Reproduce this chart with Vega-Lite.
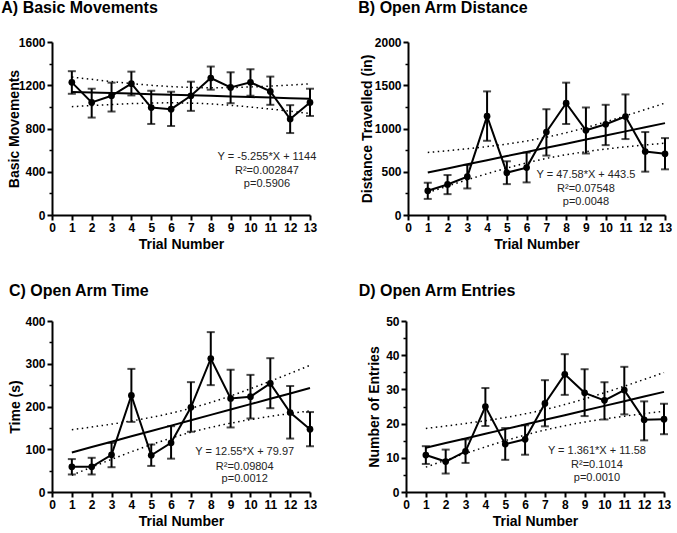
{
"$schema":"https://vega.github.io/schema/vega-lite/v6.json",
"background":"white",
"padding":{"left":1,"top":0,"right":0,"bottom":0},
"config":{
 "font":"Liberation Sans",
 "view":{"stroke":null},
 "axis":{"domainColor":"black","domainWidth":2,"tickColor":"black","tickWidth":2,"tickSize":5,"labelColor":"black","labelFont":"Liberation Sans","labelFontSize":12,"labelFontWeight":"bold","labelPadding":2,"titleFont":"Liberation Sans","titleFontSize":14,"titleFontWeight":"bold","titleColor":"black","grid":false,"labelOverlap":false},
 "axisX":{"titlePadding":4,"labelFlush":false},
 "title":{"anchor":"start","frame":"bounds","fontSize":16,"fontWeight":"bold","color":"black","font":"Liberation Sans"}
},
"datasets":{
 "A":[{"trial":1,"mean":1227,"lo":1121,"hi":1330},{"trial":2,"mean":1041,"lo":901,"hi":1168},{"trial":3,"mean":1103,"lo":957,"hi":1224},{"trial":4,"mean":1215,"lo":1106,"hi":1326},{"trial":5,"mean":994,"lo":842,"hi":1149},{"trial":6,"mean":979,"lo":823,"hi":1140},{"trial":7,"mean":1103,"lo":963,"hi":1233},{"trial":8,"mean":1267,"lo":1159,"hi":1373},{"trial":9,"mean":1180,"lo":1034,"hi":1320},{"trial":10,"mean":1227,"lo":1103,"hi":1348},{"trial":11,"mean":1143,"lo":1019,"hi":1280},{"trial":12,"mean":888,"lo":758,"hi":1016},{"trial":13,"mean":1041,"lo":916,"hi":1168}],
 "Afit":[{"trial":1,"fit":1138.7,"upper":1275.8,"lower":1001.6},{"trial":2,"fit":1133.5,"upper":1254.5,"lower":1012.5},{"trial":3,"fit":1128.2,"upper":1234.4,"lower":1022.0},{"trial":4,"fit":1123.0,"upper":1216.0,"lower":1030.0},{"trial":5,"fit":1117.7,"upper":1199.9,"lower":1035.5},{"trial":6,"fit":1112.5,"upper":1187.6,"lower":1037.4},{"trial":7,"fit":1107.2,"upper":1179.7,"lower":1034.7},{"trial":8,"fit":1102.0,"upper":1177.1,"lower":1026.9},{"trial":9,"fit":1096.7,"upper":1178.9,"lower":1014.5},{"trial":10,"fit":1091.5,"upper":1184.5,"lower":998.5},{"trial":11,"fit":1086.2,"upper":1192.4,"lower":980.0},{"trial":12,"fit":1080.9,"upper":1201.9,"lower":959.9},{"trial":13,"fit":1075.7,"upper":1212.8,"lower":938.6}],
 "Atxt":[{"trial":10.83,"y":538,"label":"Y = -5.255*X + 1144"},{"trial":10.83,"y":406,"label":"R²=0.002847"},{"trial":10.83,"y":288,"label":"p=0.5906"}],
 "B":[{"trial":1,"mean":280,"lo":186,"hi":373},{"trial":2,"mean":353,"lo":241,"hi":462},{"trial":3,"mean":443,"lo":307,"hi":579},{"trial":4,"mean":1142,"lo":858,"hi":1429},{"trial":5,"mean":489,"lo":357,"hi":621},{"trial":6,"mean":548,"lo":377,"hi":722},{"trial":7,"mean":959,"lo":687,"hi":1223},{"trial":8,"mean":1293,"lo":1052,"hi":1530},{"trial":9,"mean":979,"lo":711,"hi":1243},{"trial":10,"mean":1049,"lo":808,"hi":1274},{"trial":11,"mean":1138,"lo":878,"hi":1394},{"trial":12,"mean":734,"lo":501,"hi":959},{"trial":13,"mean":707,"lo":528,"hi":889}],
 "Bfit":[{"trial":1,"fit":491.1,"upper":722.7,"lower":259.5},{"trial":2,"fit":538.7,"upper":743.3,"lower":334.1},{"trial":3,"fit":586.2,"upper":765.6,"lower":406.8},{"trial":4,"fit":633.8,"upper":790.9,"lower":476.7},{"trial":5,"fit":681.4,"upper":820.4,"lower":542.4},{"trial":6,"fit":729.0,"upper":855.9,"lower":602.1},{"trial":7,"fit":776.6,"upper":899.2,"lower":654.0},{"trial":8,"fit":824.1,"upper":951.0,"lower":697.2},{"trial":9,"fit":871.7,"upper":1010.7,"lower":732.7},{"trial":10,"fit":919.3,"upper":1076.4,"lower":762.2},{"trial":11,"fit":966.9,"upper":1146.3,"lower":787.5},{"trial":12,"fit":1014.5,"upper":1219.1,"lower":809.9},{"trial":13,"fit":1062.0,"upper":1293.6,"lower":830.4}],
 "Btxt":[{"trial":9.0,"y":460,"label":"Y = 47.58*X + 443.5"},{"trial":9.0,"y":302,"label":"R²=0.07548"},{"trial":9.0,"y":155,"label":"p=0.0048"}],
 "C":[{"trial":1,"mean":59,"lo":41,"hi":77},{"trial":2,"mean":59,"lo":41,"hi":80},{"trial":3,"mean":87,"lo":58,"hi":115},{"trial":4,"mean":226,"lo":164,"hi":288},{"trial":5,"mean":86,"lo":61,"hi":111},{"trial":6,"mean":115,"lo":78,"hi":154},{"trial":7,"mean":198,"lo":141,"hi":257},{"trial":8,"mean":312,"lo":250,"hi":374},{"trial":9,"mean":219,"lo":151,"hi":286},{"trial":10,"mean":223,"lo":172,"hi":274},{"trial":11,"mean":254,"lo":196,"hi":313},{"trial":12,"mean":186,"lo":125,"hi":248},{"trial":13,"mean":147,"lo":107,"hi":187}],
 "Cfit":[{"trial":1,"fit":92.5,"upper":145.7,"lower":39.3},{"trial":2,"fit":105.1,"upper":152.0,"lower":58.1},{"trial":3,"fit":117.6,"upper":158.8,"lower":76.4},{"trial":4,"fit":130.2,"upper":166.2,"lower":94.1},{"trial":5,"fit":142.7,"upper":174.6,"lower":110.8},{"trial":6,"fit":155.3,"upper":184.4,"lower":126.1},{"trial":7,"fit":167.8,"upper":196.0,"lower":139.7},{"trial":8,"fit":180.4,"upper":209.5,"lower":151.2},{"trial":9,"fit":192.9,"upper":224.8,"lower":161.0},{"trial":10,"fit":205.5,"upper":241.5,"lower":169.4},{"trial":11,"fit":218.0,"upper":259.2,"lower":176.8},{"trial":12,"fit":230.6,"upper":277.5,"lower":183.6},{"trial":13,"fit":243.1,"upper":296.3,"lower":189.9}],
 "Ctxt":[{"trial":9.71,"y":92.6,"label":"Y = 12.55*X + 79.97"},{"trial":9.71,"y":59.2,"label":"R²=0.09804"},{"trial":9.71,"y":29.5,"label":"p=0.0012"}],
 "D":[{"trial":1,"mean":10.8,"lo":8.2,"hi":13.4},{"trial":2,"mean":8.9,"lo":5.4,"hi":12.4},{"trial":3,"mean":11.9,"lo":8.5,"hi":15.4},{"trial":4,"mean":25.0,"lo":19.3,"hi":30.4},{"trial":5,"mean":14.0,"lo":9.4,"hi":18.7},{"trial":6,"mean":15.4,"lo":10.9,"hi":19.5},{"trial":7,"mean":25.9,"lo":19.2,"hi":32.7},{"trial":8,"mean":34.4,"lo":28.4,"hi":40.3},{"trial":9,"mean":29.0,"lo":22.2,"hi":35.9},{"trial":10,"mean":26.8,"lo":21.2,"hi":32.1},{"trial":11,"mean":29.8,"lo":22.7,"hi":36.6},{"trial":12,"mean":21.1,"lo":15.1,"hi":26.5},{"trial":13,"mean":21.3,"lo":16.9,"hi":25.8}],
 "Dfit":[{"trial":1,"fit":12.94,"upper":18.60,"lower":7.28},{"trial":2,"fit":14.30,"upper":19.29,"lower":9.31},{"trial":3,"fit":15.66,"upper":20.04,"lower":11.28},{"trial":4,"fit":17.02,"upper":20.86,"lower":13.18},{"trial":5,"fit":18.39,"upper":21.78,"lower":15.00},{"trial":6,"fit":19.75,"upper":22.85,"lower":16.65},{"trial":7,"fit":21.11,"upper":24.10,"lower":18.12},{"trial":8,"fit":22.47,"upper":25.57,"lower":19.37},{"trial":9,"fit":23.83,"upper":27.22,"lower":20.44},{"trial":10,"fit":25.19,"upper":29.03,"lower":21.35},{"trial":11,"fit":26.55,"upper":30.93,"lower":22.17},{"trial":12,"fit":27.91,"upper":32.90,"lower":22.92},{"trial":13,"fit":29.27,"upper":34.93,"lower":23.61}],
 "Dtxt":[{"trial":9.62,"y":11.87,"label":"Y = 1.361*X + 11.58"},{"trial":9.62,"y":7.9,"label":"R²=0.1014"},{"trial":9.62,"y":4.18,"label":"p=0.0010"}]
},
"columns":2,
"align":"none",
"spacing":{"row":32,"column":41},
"concat":[
{"width":258,"height":173,"title":{"text":"A) Basic Movements","dx":-6,"offset":20},
 "encoding":{"x":{"field":"trial","type":"quantitative","scale":{"domain":[0,13],"nice":false},"axis":{"values":[0,1,2,3,4,5,6,7,8,9,10,11,12,13],"title":"Trial Number"}}},
 "layer":[
  {"data":{"name":"A"},"mark":{"type":"errorbar","thickness":2,"color":"black","ticks":{"size":8,"thickness":2,"color":"black"}},"encoding":{"y":{"field":"lo","type":"quantitative","scale":{"domain":[0,1600],"nice":false},"axis":{"values":[0,400,800,1200,1600],"format":"d","title":"Basic Movements","titlePadding":-3}},"y2":{"field":"hi"}}},
  {"data":{"name":"A"},"mark":{"type":"line","color":"black","strokeWidth":2},"encoding":{"y":{"field":"mean","type":"quantitative","scale":{"domain":[0,1600],"nice":false},"axis":null}}},
  {"data":{"name":"A"},"mark":{"type":"point","filled":true,"shape":"circle","size":45,"color":"black","opacity":1},"encoding":{"y":{"field":"mean","type":"quantitative","scale":{"domain":[0,1600],"nice":false},"axis":null}}},
  {"data":{"name":"Afit"},"mark":{"type":"line","color":"black","strokeWidth":2},"encoding":{"y":{"field":"fit","type":"quantitative","scale":{"domain":[0,1600],"nice":false},"axis":{"orient":"left","values":[200,600,1000,1400],"labels":false,"domain":false,"tickSize":3,"tickWidth":1.5,"title":null}}}},
  {"data":{"name":"Afit"},"mark":{"type":"line","color":"black","strokeWidth":1.5,"strokeDash":[1.5,3.5],"interpolate":"monotone"},"encoding":{"y":{"field":"upper","type":"quantitative","scale":{"domain":[0,1600],"nice":false},"axis":null}}},
  {"data":{"name":"Afit"},"mark":{"type":"line","color":"black","strokeWidth":1.5,"strokeDash":[1.5,3.5],"interpolate":"monotone"},"encoding":{"y":{"field":"lower","type":"quantitative","scale":{"domain":[0,1600],"nice":false},"axis":null}}},
  {"data":{"name":"Atxt"},"mark":{"type":"text","fontSize":11,"color":"#222","align":"center","baseline":"middle"},"encoding":{"y":{"field":"y","type":"quantitative","scale":{"domain":[0,1600],"nice":false},"axis":null},"text":{"field":"label"}}}
 ],
 "resolve":{"axis":{"y":"independent"}}},
{"width":257,"height":173,"title":{"text":"B) Open Arm Distance","dx":-2,"offset":20},
 "encoding":{"x":{"field":"trial","type":"quantitative","scale":{"domain":[0,13],"nice":false},"axis":{"values":[0,1,2,3,4,5,6,7,8,9,10,11,12,13],"title":"Trial Number"}}},
 "layer":[
  {"data":{"name":"B"},"mark":{"type":"errorbar","thickness":2,"color":"black","ticks":{"size":8,"thickness":2,"color":"black"}},"encoding":{"y":{"field":"lo","type":"quantitative","scale":{"domain":[0,2000],"nice":false},"axis":{"values":[0,500,1000,1500,2000],"format":"d","title":"Distance Travelled  (in)","titlePadding":0}},"y2":{"field":"hi"}}},
  {"data":{"name":"B"},"mark":{"type":"line","color":"black","strokeWidth":2},"encoding":{"y":{"field":"mean","type":"quantitative","scale":{"domain":[0,2000],"nice":false},"axis":null}}},
  {"data":{"name":"B"},"mark":{"type":"point","filled":true,"shape":"circle","size":45,"color":"black","opacity":1},"encoding":{"y":{"field":"mean","type":"quantitative","scale":{"domain":[0,2000],"nice":false},"axis":null}}},
  {"data":{"name":"Bfit"},"mark":{"type":"line","color":"black","strokeWidth":2},"encoding":{"y":{"field":"fit","type":"quantitative","scale":{"domain":[0,2000],"nice":false},"axis":{"orient":"left","values":[250,750,1250,1750],"labels":false,"domain":false,"tickSize":3,"tickWidth":1.5,"title":null}}}},
  {"data":{"name":"Bfit"},"mark":{"type":"line","color":"black","strokeWidth":1.5,"strokeDash":[1.5,3.5],"interpolate":"monotone"},"encoding":{"y":{"field":"upper","type":"quantitative","scale":{"domain":[0,2000],"nice":false},"axis":null}}},
  {"data":{"name":"Bfit"},"mark":{"type":"line","color":"black","strokeWidth":1.5,"strokeDash":[1.5,3.5],"interpolate":"monotone"},"encoding":{"y":{"field":"lower","type":"quantitative","scale":{"domain":[0,2000],"nice":false},"axis":null}}},
  {"data":{"name":"Btxt"},"mark":{"type":"text","fontSize":11,"color":"#222","align":"center","baseline":"middle"},"encoding":{"y":{"field":"y","type":"quantitative","scale":{"domain":[0,2000],"nice":false},"axis":null},"text":{"field":"label"}}}
 ],
 "resolve":{"axis":{"y":"independent"}}},
{"width":258,"height":171,"title":{"text":"C) Open Arm Time","offset":16},
 "encoding":{"x":{"field":"trial","type":"quantitative","scale":{"domain":[0,13],"nice":false},"axis":{"values":[0,1,2,3,4,5,6,7,8,9,10,11,12,13],"title":"Trial Number"}}},
 "layer":[
  {"data":{"name":"C"},"mark":{"type":"errorbar","thickness":2,"color":"black","ticks":{"size":8,"thickness":2,"color":"black"}},"encoding":{"y":{"field":"lo","type":"quantitative","scale":{"domain":[0,400],"nice":false},"axis":{"values":[0,100,200,300,400],"format":"d","title":"Time (s)","titlePadding":2}},"y2":{"field":"hi"}}},
  {"data":{"name":"C"},"mark":{"type":"line","color":"black","strokeWidth":2},"encoding":{"y":{"field":"mean","type":"quantitative","scale":{"domain":[0,400],"nice":false},"axis":null}}},
  {"data":{"name":"C"},"mark":{"type":"point","filled":true,"shape":"circle","size":45,"color":"black","opacity":1},"encoding":{"y":{"field":"mean","type":"quantitative","scale":{"domain":[0,400],"nice":false},"axis":null}}},
  {"data":{"name":"Cfit"},"mark":{"type":"line","color":"black","strokeWidth":2},"encoding":{"y":{"field":"fit","type":"quantitative","scale":{"domain":[0,400],"nice":false},"axis":{"orient":"left","values":[50,150,250,350],"labels":false,"domain":false,"tickSize":3,"tickWidth":1.5,"title":null}}}},
  {"data":{"name":"Cfit"},"mark":{"type":"line","color":"black","strokeWidth":1.5,"strokeDash":[1.5,3.5],"interpolate":"monotone"},"encoding":{"y":{"field":"upper","type":"quantitative","scale":{"domain":[0,400],"nice":false},"axis":null}}},
  {"data":{"name":"Cfit"},"mark":{"type":"line","color":"black","strokeWidth":1.5,"strokeDash":[1.5,3.5],"interpolate":"monotone"},"encoding":{"y":{"field":"lower","type":"quantitative","scale":{"domain":[0,400],"nice":false},"axis":null}}},
  {"data":{"name":"Ctxt"},"mark":{"type":"text","fontSize":11,"color":"#222","align":"center","baseline":"middle"},"encoding":{"y":{"field":"y","type":"quantitative","scale":{"domain":[0,400],"nice":false},"axis":null},"text":{"field":"label"}}}
 ],
 "resolve":{"axis":{"y":"independent"}}},
{"width":258,"height":171,"title":{"text":"D) Open Arm Entries","dx":-9,"offset":16},
 "encoding":{"x":{"field":"trial","type":"quantitative","scale":{"domain":[0,13],"nice":false},"axis":{"values":[0,1,2,3,4,5,6,7,8,9,10,11,12,13],"title":"Trial Number"}}},
 "layer":[
  {"data":{"name":"D"},"mark":{"type":"errorbar","thickness":2,"color":"black","ticks":{"size":8,"thickness":2,"color":"black"}},"encoding":{"y":{"field":"lo","type":"quantitative","scale":{"domain":[0,50],"nice":false},"axis":{"values":[0,10,20,30,40,50],"format":"d","title":"Number of Entries","titlePadding":4}},"y2":{"field":"hi"}}},
  {"data":{"name":"D"},"mark":{"type":"line","color":"black","strokeWidth":2},"encoding":{"y":{"field":"mean","type":"quantitative","scale":{"domain":[0,50],"nice":false},"axis":null}}},
  {"data":{"name":"D"},"mark":{"type":"point","filled":true,"shape":"circle","size":45,"color":"black","opacity":1},"encoding":{"y":{"field":"mean","type":"quantitative","scale":{"domain":[0,50],"nice":false},"axis":null}}},
  {"data":{"name":"Dfit"},"mark":{"type":"line","color":"black","strokeWidth":2},"encoding":{"y":{"field":"fit","type":"quantitative","scale":{"domain":[0,50],"nice":false},"axis":{"orient":"left","values":[5,15,25,35,45],"labels":false,"domain":false,"tickSize":3,"tickWidth":1.5,"title":null}}}},
  {"data":{"name":"Dfit"},"mark":{"type":"line","color":"black","strokeWidth":1.5,"strokeDash":[1.5,3.5],"interpolate":"monotone"},"encoding":{"y":{"field":"upper","type":"quantitative","scale":{"domain":[0,50],"nice":false},"axis":null}}},
  {"data":{"name":"Dfit"},"mark":{"type":"line","color":"black","strokeWidth":1.5,"strokeDash":[1.5,3.5],"interpolate":"monotone"},"encoding":{"y":{"field":"lower","type":"quantitative","scale":{"domain":[0,50],"nice":false},"axis":null}}},
  {"data":{"name":"Dtxt"},"mark":{"type":"text","fontSize":11,"color":"#222","align":"center","baseline":"middle"},"encoding":{"y":{"field":"y","type":"quantitative","scale":{"domain":[0,50],"nice":false},"axis":null},"text":{"field":"label"}}}
 ],
 "resolve":{"axis":{"y":"independent"}}}
]
}
